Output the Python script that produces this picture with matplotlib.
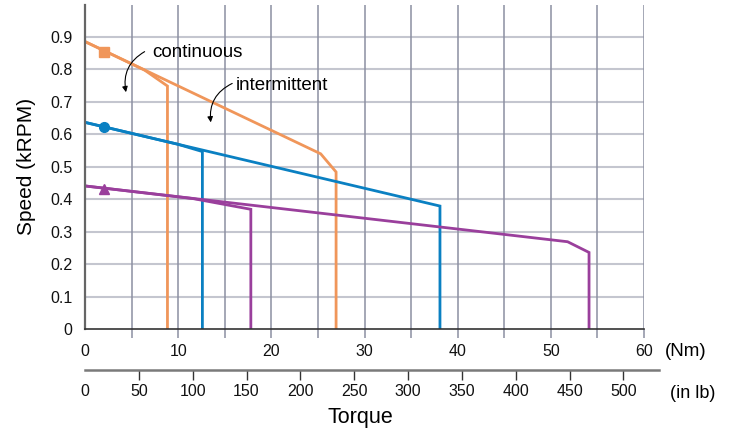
import matplotlib
matplotlib.use("Agg")
import matplotlib.pyplot as plt
from matplotlib.transforms import offset_copy

plt.rcParams['font.family'] = ['Liberation Sans', 'DejaVu Sans']

# Speed-torque curves (torque in Nm, speed in kRPM)
orange_int_t = [0, 25.3, 26.95, 26.95]
orange_int_s = [0.886, 0.540, 0.484, 0.0]
orange_cont_t = [0, 6.4, 8.85, 8.85]
orange_cont_s = [0.886, 0.798, 0.749, 0.0]

blue_int_t = [0, 38.1, 38.1]
blue_int_s = [0.637, 0.379, 0.0]
blue_cont_t = [0, 9.9, 12.6, 12.6]
blue_cont_s = [0.637, 0.570, 0.547, 0.0]

purple_int_t = [0, 51.8, 54.1, 54.1]
purple_int_s = [0.441, 0.269, 0.236, 0.0]
purple_cont_t = [0, 11.6, 17.8, 17.8]
purple_cont_s = [0.441, 0.402, 0.369, 0.0]

marker_t = [2.0, 2.0, 2.0]
marker_s = [0.854, 0.623, 0.432]

nm_ticks = list(range(0, 61, 5))
nm_labels = ['0', '', '10', '', '20', '', '30', '', '40', '', '50', '', '60']
inlb_ticks = list(range(0, 501, 50))
speed_ticks = [0, 0.1, 0.2, 0.3, 0.4, 0.5, 0.6, 0.7, 0.8, 0.9]
speed_labels = ['0', '0.1', '0.2', '0.3', '0.4', '0.5', '0.6', '0.7', '0.8', '0.9']

ORANGE = '#f0965a'
BLUE = '#0a80c2'
PURPLE = '#9a3f9c'
VGRID = '#8c90a2'
HGRID = '#c4c6cf'
TXT = '#111111'
FS = 11.5

W, H = 733, 434
fig = plt.figure(figsize=(W / 100, H / 100), dpi=100)
x0, x1 = 85, 644
y0 = 329
ax = fig.add_axes([x0 / W, (H - y0) / H, (x1 - x0) / W, (y0 - 4.6) / H])
ax.set_xlim(0, 60)
ax.set_ylim(0, 1.0)

# grid
for v in speed_ticks[1:]:
    ax.axhline(v, color=HGRID, lw=1.5, zorder=0)
for t in nm_ticks[1:]:
    ax.axvline(t, color=VGRID, lw=1.1, zorder=0.5)

lw = 2.0
ax.plot(orange_int_t, orange_int_s, color=ORANGE, lw=lw, solid_joinstyle='miter')
ax.plot(orange_cont_t, orange_cont_s, color=ORANGE, lw=lw, solid_joinstyle='miter')
ax.plot(blue_int_t, blue_int_s, color=BLUE, lw=lw, solid_joinstyle='miter')
ax.plot(blue_cont_t, blue_cont_s, color=BLUE, lw=lw, solid_joinstyle='miter')
ax.plot(purple_int_t, purple_int_s, color=PURPLE, lw=lw, solid_joinstyle='miter')
ax.plot(purple_cont_t, purple_cont_s, color=PURPLE, lw=lw, solid_joinstyle='miter')

ax.plot(marker_t[0], marker_s[0], 's', color=ORANGE, ms=7, zorder=5)
ax.plot(marker_t[1], marker_s[1], 'o', color=BLUE, ms=7, zorder=5)
ax.plot(marker_t[2], marker_s[2], '^', color=PURPLE, ms=7, zorder=5)

# spines
for s in ['top', 'right']:
    ax.spines[s].set_visible(False)
ax.spines['left'].set_color('#666666')
ax.spines['left'].set_linewidth(1.6)
ax.spines['bottom'].set_color('#333333')
ax.spines['bottom'].set_linewidth(1.2)

ax.set_xticks(nm_ticks)
ax.set_xticklabels(nm_labels)
ax.tick_params(axis='x', direction='out', length=6.5, width=1.1, color=VGRID,
               labelsize=FS, pad=4, labelcolor=TXT)
ax.xaxis.get_major_ticks()[0].tick1line.set_visible(False)
ax.set_yticks(speed_ticks)
ax.set_yticklabels(speed_labels)
ax.tick_params(axis='y', length=0, labelsize=FS, pad=9, labelcolor=TXT)

# top speed label sits at the upper edge of the figure
top_tr = offset_copy(ax.get_yaxis_transform(), fig=fig, x=-9, y=7, units='points')
ax.text(0, 1.0, '1.0', fontsize=FS, ha='right', va='center', color=TXT,
        transform=top_tr, clip_on=False)

ax.set_ylabel('Speed (kRPM)', fontsize=15, labelpad=10)
fig.text(686 / W, 1 - 352 / H, '(Nm)', fontsize=13.5, ha='center', va='center')

# secondary torque scale in inch-pounds
ax2 = fig.add_axes([x0 / W, (H - 370) / H, (659 - x0) / W, 0.0001])
ax2.set_xlim(0, 533)
ax2.set_yticks([])
for s in ['top', 'right', 'left']:
    ax2.spines[s].set_visible(False)
ax2.spines['bottom'].set_color('#7a7a7a')
ax2.spines['bottom'].set_linewidth(1.8)
ax2.set_xticks(inlb_ticks)
ax2.set_xticklabels([str(t) for t in inlb_ticks])
ax2.tick_params(axis='x', direction='out', length=7, width=1.0, color='#333333',
                labelsize=FS, pad=3, labelcolor=TXT)
ax2.xaxis.get_major_ticks()[0].tick1line.set_visible(False)
ax2.patch.set_visible(False)
fig.text(693 / W, 1 - 393 / H, '(in lb)', fontsize=13, ha='center', va='center')
fig.text(360 / W, 1 - 418 / H, 'Torque', fontsize=15.5, ha='center', va='center')

# annotations
ax.annotate('', xy=(4.4, 0.730), xytext=(6.4, 0.855),
            arrowprops=dict(arrowstyle='-|>', color='black', lw=0.8,
                            mutation_scale=8, shrinkA=0, shrinkB=0,
                            connectionstyle='arc3,rad=0.35'))
ax.text(7.2, 0.852, 'continuous', fontsize=13.5, ha='left', va='center')
ax.annotate('', xy=(13.5, 0.637), xytext=(15.8, 0.757),
            arrowprops=dict(arrowstyle='-|>', color='black', lw=0.8,
                            mutation_scale=8, shrinkA=0, shrinkB=0,
                            connectionstyle='arc3,rad=0.35'))
ax.text(16.2, 0.752, 'intermittent', fontsize=13.5, ha='left', va='center')

fig.savefig('out.png', dpi=100)
